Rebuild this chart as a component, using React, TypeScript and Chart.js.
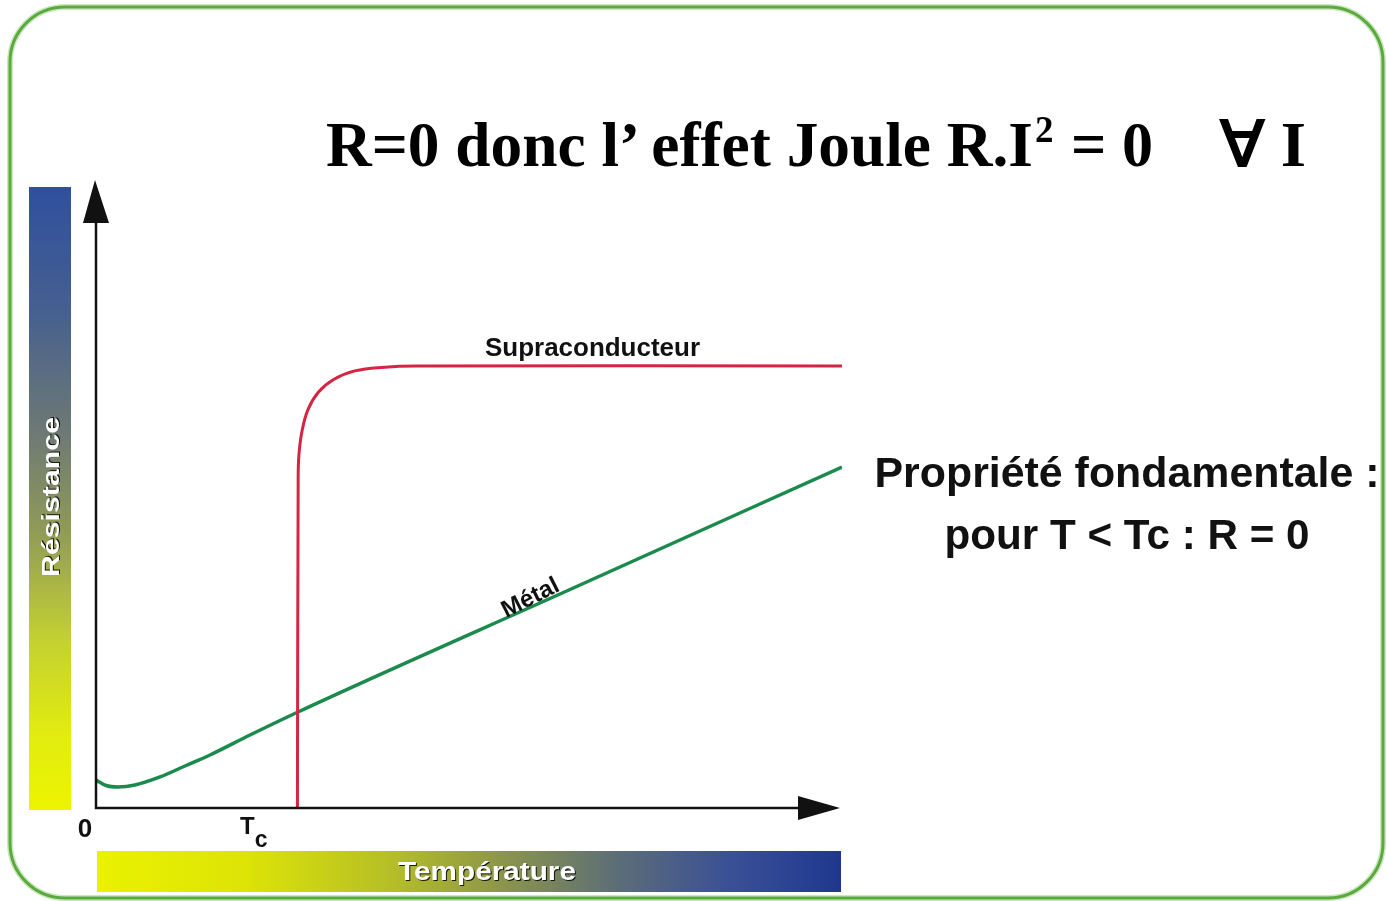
import React, { useEffect, useRef } from "react";
import { Chart, registerables } from "chart.js";

Chart.register(...registerables);

const W = 1387;
const H = 901;

// Temperature axis (arbitrary units, 0 … 100) and resistance axis (0 … 100)
const T_MIN = 0;
const T_MAX = 100;
const R_MIN = 0;
const R_MAX = 100;

// Supraconducteur curve
const supraT = [27.0, 27.1, 27.2, 27.6, 28.4, 29.8, 31.8, 34.7, 38.7, 42.8, 100];
const supraR = [0, 52.2, 56.2, 59.9, 63.4, 66.2, 68.2, 69.6, 70.2, 70.4, 70.4];

// Métal curve
const metalT = [0, 1.34, 2.95, 5.23, 8.58, 11.93, 15.28, 20.64, 27.08, 63.54, 100];
const metalR = [4.46, 3.58, 3.34, 3.66, 4.94, 6.69, 8.44, 11.62, 15.29, 34.79, 54.3];

const tickLabels = ["0", "T", "c"];

const arrowAxes = {
  id: "arrowAxes",
  afterDatasetsDraw(chart: any) {
    const { ctx, scales, chartArea } = chart;
    const x0 = scales.x.getPixelForValue(T_MIN);
    const y0 = scales.y.getPixelForValue(R_MIN);
    const xEnd = chartArea.right - 2;
    const yEnd = chartArea.top;
    ctx.save();
    ctx.strokeStyle = "#111";
    ctx.fillStyle = "#111";
    ctx.lineWidth = 2.5;
    ctx.beginPath();
    ctx.moveTo(x0, yEnd + 40);
    ctx.lineTo(x0, y0);
    ctx.lineTo(xEnd - 40, y0);
    ctx.stroke();
    ctx.beginPath();
    ctx.moveTo(x0 - 1, yEnd);
    ctx.lineTo(x0 - 13, yEnd + 43);
    ctx.lineTo(x0 + 13, yEnd + 43);
    ctx.closePath();
    ctx.fill();
    ctx.beginPath();
    ctx.moveTo(xEnd, y0);
    ctx.lineTo(xEnd - 42, y0 - 12);
    ctx.lineTo(xEnd - 42, y0 + 12);
    ctx.closePath();
    ctx.fill();
    ctx.restore();
  },
};

export default function App() {
  const ref = useRef<HTMLCanvasElement | null>(null);

  useEffect(() => {
    if (!ref.current) return;
    const chart = new Chart(ref.current, {
      type: "line",
      data: {
        datasets: [
          {
            label: "Supraconducteur",
            data: supraT.map((t, i) => ({ x: t, y: supraR[i] })),
            borderColor: "#d42542",
            borderWidth: 3,
            pointRadius: 0,
            tension: 0.4,
            fill: false,
          },
          {
            label: "Métal",
            data: metalT.map((t, i) => ({ x: t, y: metalR[i] })),
            borderColor: "#1a8b4d",
            borderWidth: 3.5,
            pointRadius: 0,
            cubicInterpolationMode: "monotone",
            fill: false,
          },
        ],
      },
      options: {
        animation: false,
        responsive: false,
        maintainAspectRatio: false,
        layout: { padding: { left: 96, right: 545, top: 180, bottom: 93 } },
        scales: {
          x: { type: "linear", min: T_MIN, max: T_MAX, display: false },
          y: { type: "linear", min: R_MIN, max: R_MAX, display: false },
        },
        plugins: { legend: { display: false }, tooltip: { enabled: false } },
        events: [],
      },
      plugins: [arrowAxes],
    });
    return () => chart.destroy();
  }, []);

  const sans = "'Liberation Sans', Arial, Helvetica, sans-serif";
  const serif = "'Liberation Serif', 'Times New Roman', serif";
  const shadow = { filter: "drop-shadow(1px 1px 0.6px rgba(0,0,0,0.85))" };

  return (
    <div style={{ position: "fixed", left: 0, top: 0, width: W, height: H, background: "#fff", overflow: "hidden" }}>
      <canvas ref={ref} width={W} height={H} style={{ position: "absolute", left: 0, top: 0, width: W, height: H }} />
      <svg width={W} height={H} style={{ position: "absolute", left: 0, top: 0, pointerEvents: "none" }}>
        <defs>
          <linearGradient id="gradR" x1="0" y1="0" x2="0" y2="1">
            <stop offset="0" stopColor="#2f4f9f" />
            <stop offset="0.2" stopColor="#46608f" />
            <stop offset="0.4" stopColor="#6f7a74" />
            <stop offset="0.55" stopColor="#8f9a58" />
            <stop offset="0.72" stopColor="#c2cf33" />
            <stop offset="0.88" stopColor="#e2ec10" />
            <stop offset="1" stopColor="#ecf400" />
          </linearGradient>
          <linearGradient id="gradT" x1="0" y1="0" x2="1" y2="0">
            <stop offset="0" stopColor="#eaf200" />
            <stop offset="0.2" stopColor="#dde406" />
            <stop offset="0.4" stopColor="#b4bd28" />
            <stop offset="0.55" stopColor="#8a944c" />
            <stop offset="0.7" stopColor="#5c6d78" />
            <stop offset="0.85" stopColor="#3a5096" />
            <stop offset="1" stopColor="#1f388e" />
          </linearGradient>
        </defs>

        <rect x={10} y={7} width={1373} height={891} rx={55} ry={55} fill="none" stroke="#cde8c0" strokeWidth={6} />
        <rect x={10} y={7} width={1373} height={891} rx={55} ry={55} fill="none" stroke="#5aaa3e" strokeWidth={3} />

        <rect x={29} y={187} width={42} height={623} fill="url(#gradR)" />
        <rect x={97} y={851} width={744} height={41} fill="url(#gradT)" />

        <text x={326} y={166} fontFamily={serif} fontWeight="bold" fontSize={63} fill="#000" textLength={707} lengthAdjust="spacingAndGlyphs">
          R=0 donc l’ effet Joule R.I
        </text>
        <text x={1035} y={142} fontFamily={serif} fontWeight="bold" fontSize={37} fill="#000">2</text>
        <text x={1071} y={166} fontFamily={serif} fontWeight="bold" fontSize={63} fill="#000" textLength={82} lengthAdjust="spacingAndGlyphs">= 0</text>
        <text x={1220} y={166} fontFamily={serif} fontWeight="bold" fontSize={63} fill="#000" textLength={86} lengthAdjust="spacingAndGlyphs">∀ I</text>

        <text x={1127} y={487} textAnchor="middle" fontFamily={sans} fontWeight="bold" fontSize={43} fill="#111" textLength={505} lengthAdjust="spacingAndGlyphs">
          Propriété fondamentale :
        </text>
        <text x={1127} y={549} textAnchor="middle" fontFamily={sans} fontWeight="bold" fontSize={43} fill="#111" textLength={365} lengthAdjust="spacingAndGlyphs">
          pour T &lt; Tc : R = 0
        </text>

        <text x={485} y={356} fontFamily={sans} fontWeight="bold" fontSize={25} fill="#111" textLength={215} lengthAdjust="spacingAndGlyphs">
          Supraconducteur
        </text>
        <text x={530} y={605} textAnchor="middle" transform="rotate(-27 530 597)" fontFamily={sans} fontWeight="bold" fontSize={24} fill="#111">
          Métal
        </text>

        <text x={85} y={837} textAnchor="middle" fontFamily={sans} fontWeight="bold" fontSize={26} fill="#111">{tickLabels[0]}</text>
        <text x={240} y={834} fontFamily={sans} fontWeight="bold" fontSize={24} fill="#111">
          {tickLabels[1]}
          <tspan dy={13} fontSize={23}>{tickLabels[2]}</tspan>
        </text>

        <text x={0} y={0} transform="translate(59 497) rotate(-90)" textAnchor="middle" fontFamily={sans} fontWeight="bold" fontSize={24} fill="#fff" textLength={160} lengthAdjust="spacingAndGlyphs" style={shadow}>
          Résistance
        </text>
        <text x={398} y={880} fontFamily={sans} fontWeight="bold" fontSize={25} fill="#fff" textLength={178} lengthAdjust="spacingAndGlyphs" style={shadow}>
          Température
        </text>
      </svg>
    </div>
  );
}
